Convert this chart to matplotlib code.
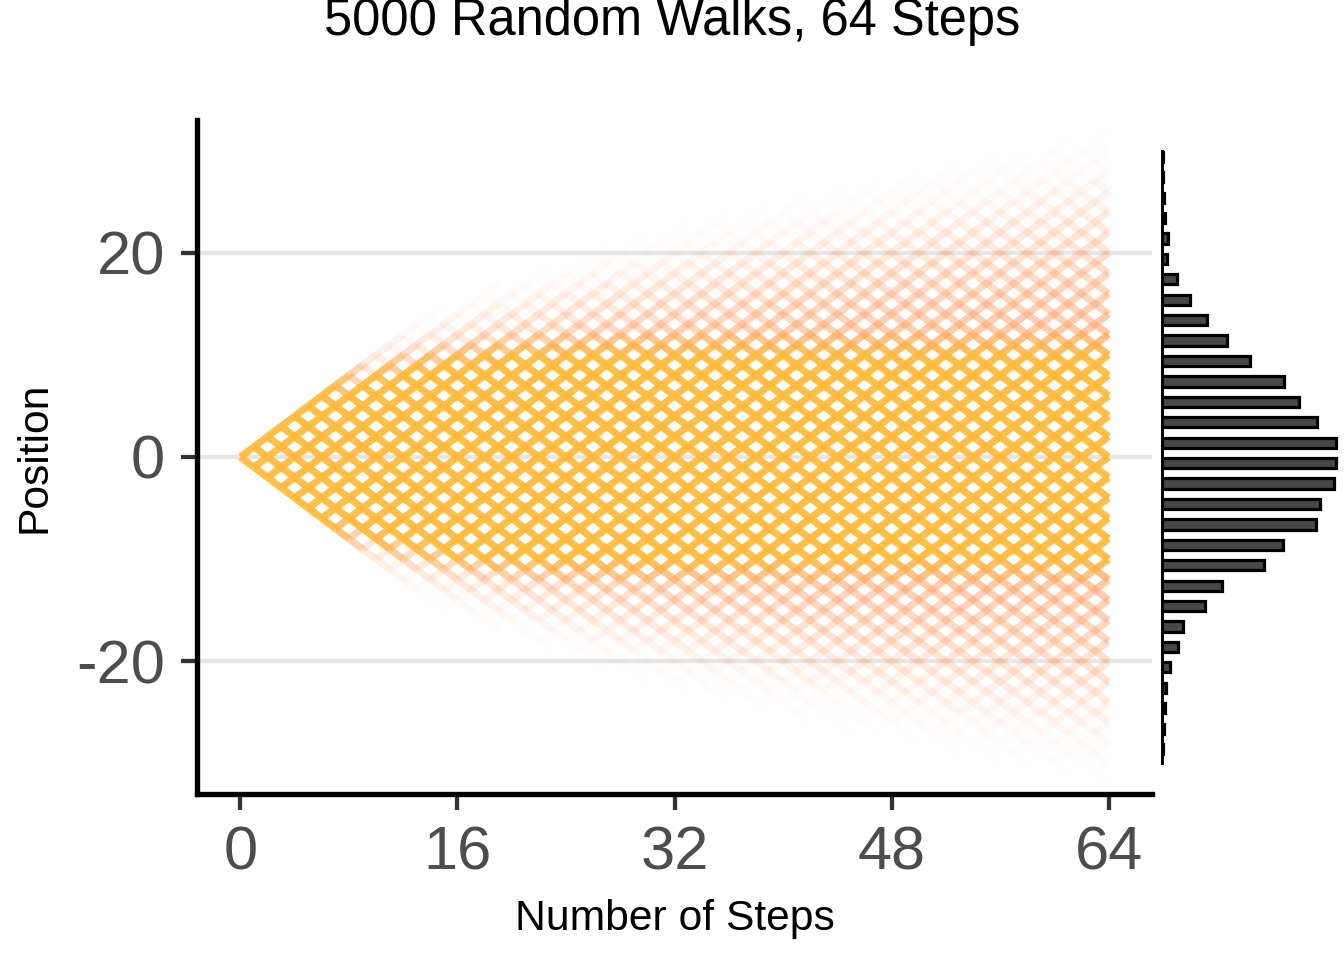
import math
import numpy as np
import matplotlib
matplotlib.use("Agg")
import matplotlib.pyplot as plt
from matplotlib.collections import LineCollection

# ---------------- data ----------------
n_walks = 5000
n_steps = 64
x_ticks = [0, 16, 32, 48, 64]
y_ticks = [-20, 0, 20]
title = "5000 Random Walks, 64 Steps"
x_label = "Number of Steps"
y_label = "Position"

# histogram of final positions (bin centres / counts)
hist_centers = [29.4, 27.4, 25.4, 23.4, 21.4, 19.4, 17.4, 15.4, 13.4, 11.4,
                9.4, 7.4, 5.4, 3.4, 1.4, -0.6, -2.6, -4.6, -6.6, -8.6,
                -10.6, -12.6, -14.6, -16.6, -18.6, -20.6, -22.6, -24.6, -26.6, -28.6]
hist_counts = [3, 3, 4, 8, 16, 13, 40, 74, 119, 172,
               233, 324, 363, 411, 462, 462, 456, 419, 408, 321,
               271, 159, 114, 56, 42, 21, 11, 8, 4, 3]

# ---------------- style ----------------
plt.rcParams["font.family"] = ["Liberation Sans", "DejaVu Sans"]
plt.rcParams["axes.unicode_minus"] = False

W, H = 1344, 960
fig = plt.figure(figsize=(7, 5), dpi=192)


def px_axes(l, t, r, b):
    return fig.add_axes([l / W, 1 - b / H, (r - l) / W, (b - t) / H])


ax = px_axes(197, 120, 1152, 794)
ax.set_xlim(-3.2, 67.2)
ax.set_ylim(-33, 33)

# grid lines
for yv in y_ticks:
    ax.axhline(yv, color="#E6E6E6", lw=1.6, zorder=0)

# lattice of walk segments, shaded by how many walks cross each edge
segs, counts, ymid = [], [], []
for i in range(n_steps):
    for j in range(-i, i + 1, 2):
        k = (i + j) // 2
        p = math.comb(i, k) / 2.0 ** i
        n_edge = n_walks * p * 0.5
        for d in (1, -1):
            segs.append([(i, j), (i + 1, j + d)])
            counts.append(n_edge)
            ymid.append(j + d / 2)
counts = np.array(counts)
ymid = np.abs(np.array(ymid))

salmon = np.array([255, 158, 100]) / 255
gold = np.array([255, 186, 58]) / 255
c_low = np.where(counts >= 1, 0.12 * np.log1p(counts), 0.083 * counts)
c_low = np.clip(c_low, 0, 0.58)
t = np.clip((counts - 6) / 24, 0, 1) ** 0.7 * np.clip((12.8 - ymid) / 3.0, 0, 1)
rgb = salmon[None, :] * (1 - t[:, None]) + gold[None, :] * t[:, None]
alpha = c_low * (1 - t) + 0.93 * t
colors = np.column_stack([rgb, alpha])
# draw faint segments first, strongest last
order = np.lexsort((counts, alpha))
segs = [segs[o] for o in order]
colors = colors[order]
alpha = alpha[order]
keep = alpha > 0.008
lc = LineCollection([s for s, kk in zip(segs, keep) if kk], colors=colors[keep],
                    linewidths=2.7, capstyle="butt", zorder=2)
ax.add_collection(lc)

# axes styling
for s in ("top", "right"):
    ax.spines[s].set_visible(False)
for s in ("left", "bottom"):
    ax.spines[s].set_linewidth(2.0)
    ax.spines[s].set_color("black")
ax.set_xticks(x_ticks)
ax.set_yticks(y_ticks)
ax.tick_params(axis="both", length=6, width=1.6, color="#333333",
               labelsize=23, labelcolor="#4D4D4D", pad=6)
ax.set_xlabel(x_label, fontsize=16, color="black", labelpad=6)
ax.set_ylabel(y_label, fontsize=16, color="black", labelpad=8)

fig.text(0.5, 1 - 22 / H, title, ha="center", va="center", fontsize=19, color="black")

# marginal histogram
hx = px_axes(1162, 120, 1340, 794)
hx.set_ylim(-33, 33)
hx.set_xlim(0, 472.6)
hx.barh(hist_centers, hist_counts, height=1.0, color="#474747",
        edgecolor="black", linewidth=1.2)
for s in ("top", "right", "bottom"):
    hx.spines[s].set_visible(False)
hx.spines["left"].set_linewidth(1.1)
hx.spines["left"].set_bounds(-30, 30)
hx.set_xticks([])
hx.set_yticks([])
hx.patch.set_alpha(0)

fig.savefig("out.png", dpi=192)
